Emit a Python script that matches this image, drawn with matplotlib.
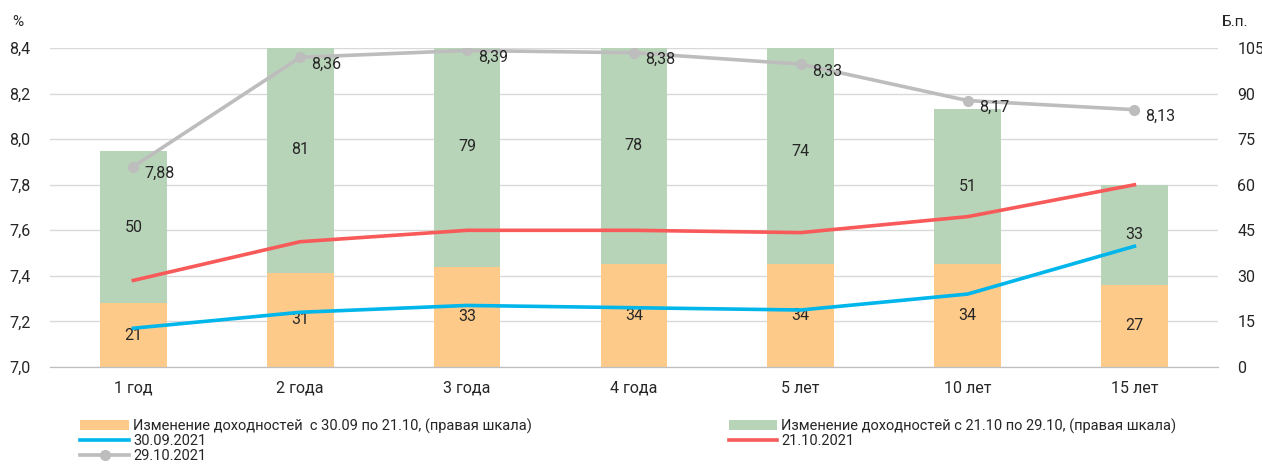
import matplotlib.pyplot as plt
import numpy as np

plt.rcParams['font.family'] = ['Roboto', 'DejaVu Sans']

categories = ["1 год", "2 года", "3 года", "4 года", "5 лет", "10 лет", "15 лет"]
chg_sep_oct = [21, 31, 33, 34, 34, 34, 27]      # bp, right scale
chg_oct = [50, 81, 79, 78, 74, 51, 33]          # bp, right scale
y_3009 = [7.17, 7.24, 7.27, 7.26, 7.25, 7.32, 7.53]
y_2110 = [7.38, 7.55, 7.60, 7.60, 7.59, 7.66, 7.80]
y_2910 = [7.88, 8.36, 8.39, 8.38, 8.33, 8.17, 8.13]

ORANGE = "#FDCA89"
GREEN = "#B8D4B8"
BLUE = "#00B6EB"
RED = "#F85A5A"
GRAY = "#BDBDBD"
TXT = "#262626"


def comma(v, fmt):
    return format(v, fmt).replace(".", ",")


fig = plt.figure(figsize=(12.62, 4.68), dpi=100)
ax = fig.add_axes([0.0396, 0.216, 0.9254, 0.681])
ax2 = ax.twinx()

x = np.arange(len(categories))
w = 0.4

# bars on the right axis
b1 = ax2.bar(x, chg_sep_oct, w, color=ORANGE, zorder=1)
b2 = ax2.bar(x, chg_oct, w, bottom=chg_sep_oct, color=GREEN, zorder=1)
for xi, a, b in zip(x, chg_sep_oct, chg_oct):
    ax2.text(xi, a / 2, str(a), ha="center", va="center", fontsize=11.5, color=TXT, zorder=5)
    ax2.text(xi, a + b / 2, str(b), ha="center", va="center", fontsize=11.5, color=TXT, zorder=5)
ax2.set_ylim(0, 105)
ax2.set_yticks(np.arange(0, 106, 15))

# lines on the left axis, drawn over the bars
ax.set_zorder(ax2.get_zorder() + 1)
ax.patch.set_visible(False)
l1, = ax.plot(x, y_3009, color=BLUE, lw=2.6)
l2, = ax.plot(x, y_2110, color=RED, lw=2.6)
l3, = ax.plot(x, y_2910, color=GRAY, lw=2.6, marker="o", ms=7)
for xi, v in zip(x, y_2910):
    ax.annotate(comma(v, ".2f"), (xi, v), xytext=(8, -5), textcoords="offset points",
                ha="left", va="center", fontsize=11.5, color=TXT)

ax.set_xlim(-0.5, len(categories) - 0.5)
ax.set_ylim(7.0, 8.4)
yt = np.arange(7.0, 8.41, 0.2)
ax.set_yticks(yt)
ax.set_yticklabels([comma(v, ".1f") for v in yt])
ax.set_xticks(x)
ax.set_xticklabels(categories)

# grid lives on the bar axis so it sits behind the bars
ax2.grid(axis="y", color="#D9D9D9", lw=1, zorder=0)
ax2.set_axisbelow(True)
for a in (ax, ax2):
    for s in ("top", "left", "right"):
        a.spines[s].set_visible(False)
    a.spines["bottom"].set_color("#BFBFBF")
    a.tick_params(length=0, labelsize=11.5, colors=TXT)
ax.tick_params(axis="x", pad=10)
ax.tick_params(axis="y", pad=14)
ax2.tick_params(axis="y", pad=14)

fig.text(0.01, 0.953, "%", fontsize=11, color=TXT, ha="left", va="center")
fig.text(0.989, 0.953, "Б.п.", fontsize=11, color=TXT, ha="right", va="center")

handles = [b1, l1, l3, b2, l2]
labels = ["Изменение доходностей  с 30.09 по 21.10, (правая шкала)", "30.09.2021", "29.10.2021",
          "Изменение доходностей с 21.10 по 29.10, (правая шкала)", "21.10.2021"]
fig.legend(handles, labels, ncol=2, loc="upper left", bbox_to_anchor=(0.058, 0.122),
           frameon=False, fontsize=10.5, handlelength=3.3, handleheight=0.6,
           labelspacing=0.05, columnspacing=13.5, handletextpad=0.3, borderpad=0,
           labelcolor=TXT)

fig.savefig("out.png", dpi=100)
